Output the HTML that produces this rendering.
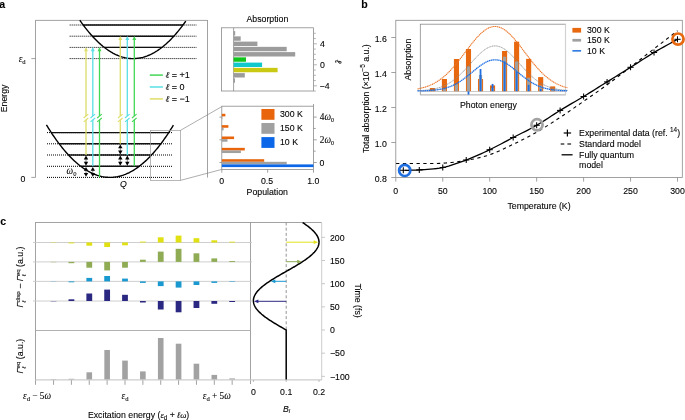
<!DOCTYPE html>
<html><head><meta charset="utf-8"><style>
html,body{margin:0;padding:0;background:#fff;width:685px;height:420px;overflow:hidden}
svg{display:block;font-family:"Liberation Sans",sans-serif;will-change:transform}
text{stroke:#000;stroke-width:0.1px}
</style></head><body>
<svg width="685" height="420" viewBox="0 0 685 420">
<text x="-0.8" y="7.7" font-size="10.6" text-anchor="start" fill="#000" font-weight="bold">a</text>
<text x="361.3" y="7.9" font-size="10.6" text-anchor="start" fill="#000" font-weight="bold">b</text>
<text x="0.3" y="225.1" font-size="10.6" text-anchor="start" fill="#000" font-weight="bold">c</text>
<line x1="35.5" y1="20.4" x2="35.5" y2="177.4" stroke="#8a8a8a" stroke-width="0.8" />
<line x1="35.1" y1="20.4" x2="207.5" y2="20.4" stroke="#8a8a8a" stroke-width="0.8" />
<line x1="207.5" y1="20" x2="207.5" y2="177.6" stroke="#8a8a8a" stroke-width="0.8" />
<line x1="31.3" y1="58.6" x2="35.5" y2="58.6" stroke="#8a8a8a" stroke-width="0.8" />
<line x1="31.3" y1="177.4" x2="35.5" y2="177.4" stroke="#8a8a8a" stroke-width="0.8" />
<text x="25.6" y="62" font-size="9.3" text-anchor="end" fill="#000" font-family="Liberation Serif"><tspan font-family="Liberation Serif" font-style="italic">ε</tspan><tspan font-size="6.6" dy="2.2">d</tspan></text>
<text x="23" y="181.6" font-size="8.75" text-anchor="middle" fill="#000" >0</text>
<text x="0" y="0" font-size="8.75" text-anchor="middle" fill="#000" transform="translate(7.2 98.4) rotate(-90)">Energy</text>
<line x1="69.7" y1="58.6" x2="196.4" y2="58.6" stroke="#000" stroke-width="1" stroke-dasharray="1.0 1.0"/>
<line x1="69.7" y1="47.4" x2="196.4" y2="47.4" stroke="#000" stroke-width="1" stroke-dasharray="1.0 1.0"/>
<line x1="104.3" y1="47.4" x2="161.9" y2="47.4" stroke="#111" stroke-width="1.4" />
<line x1="69.7" y1="36.2" x2="196.4" y2="36.2" stroke="#000" stroke-width="1" stroke-dasharray="1.0 1.0"/>
<line x1="92.37" y1="36.2" x2="173.83" y2="36.2" stroke="#111" stroke-width="1.4" />
<line x1="69.7" y1="25" x2="196.4" y2="25" stroke="#000" stroke-width="1" stroke-dasharray="1.0 1.0"/>
<line x1="83.21" y1="25" x2="182.99" y2="25" stroke="#111" stroke-width="1.4" />
<path d="M79.8 20.25 L80.8 21.67 L81.8 23.07 L82.8 24.44 L83.8 25.79 L84.8 27.11 L85.8 28.4 L86.8 29.66 L87.8 30.9 L88.8 32.11 L89.8 33.29 L90.8 34.44 L91.8 35.57 L92.8 36.67 L93.8 37.75 L94.8 38.8 L95.8 39.82 L96.8 40.81 L97.8 41.78 L98.8 42.72 L99.8 43.63 L100.8 44.52 L101.8 45.37 L102.8 46.21 L103.8 47.01 L104.8 47.79 L105.8 48.54 L106.8 49.26 L107.8 49.96 L108.8 50.63 L109.8 51.27 L110.8 51.89 L111.8 52.48 L112.8 53.04 L113.8 53.57 L114.8 54.08 L115.8 54.56 L116.8 55.01 L117.8 55.44 L118.8 55.84 L119.8 56.21 L120.8 56.56 L121.8 56.88 L122.8 57.17 L123.8 57.43 L124.8 57.67 L125.8 57.88 L126.8 58.06 L127.8 58.22 L128.8 58.35 L129.8 58.45 L130.8 58.53 L131.8 58.58 L132.8 58.6 L133.8 58.59 L134.8 58.56 L135.8 58.5 L136.8 58.42 L137.8 58.3 L138.8 58.16 L139.8 57.99 L140.8 57.8 L141.8 57.58 L142.8 57.33 L143.8 57.05 L144.8 56.75 L145.8 56.42 L146.8 56.07 L147.8 55.68 L148.8 55.27 L149.8 54.83 L150.8 54.37 L151.8 53.88 L152.8 53.36 L153.8 52.82 L154.8 52.24 L155.8 51.64 L156.8 51.02 L157.8 50.36 L158.8 49.68 L159.8 48.98 L160.8 48.24 L161.8 47.48 L162.8 46.69 L163.8 45.88 L164.8 45.03 L165.8 44.16 L166.8 43.27 L167.8 42.34 L168.8 41.39 L169.8 40.42 L170.8 39.41 L171.8 38.38 L172.8 37.32 L173.8 36.24 L174.8 35.12 L175.8 33.99 L176.8 32.82 L177.8 31.63 L178.8 30.41 L179.8 29.16 L180.8 27.88 L181.8 26.58 L182.8 25.25 L183.8 23.9 L184.8 22.52 L185.8 21.11" fill="none" stroke="#000" stroke-width="1.4" />
<line x1="47" y1="177.4" x2="172.9" y2="177.4" stroke="#000" stroke-width="1" stroke-dasharray="1.0 1.0"/>
<line x1="47" y1="166.3" x2="172.9" y2="166.3" stroke="#000" stroke-width="1" stroke-dasharray="1.0 1.0"/>
<line x1="80.78" y1="166.3" x2="139.22" y2="166.3" stroke="#111" stroke-width="1.4" />
<line x1="47" y1="155" x2="172.9" y2="155" stroke="#000" stroke-width="1" stroke-dasharray="1.0 1.0"/>
<line x1="68.49" y1="155" x2="151.51" y2="155" stroke="#111" stroke-width="1.4" />
<line x1="47" y1="143.8" x2="172.9" y2="143.8" stroke="#000" stroke-width="1" stroke-dasharray="1.0 1.0"/>
<line x1="59.16" y1="143.8" x2="160.84" y2="143.8" stroke="#111" stroke-width="1.4" />
<line x1="47" y1="132.6" x2="172.9" y2="132.6" stroke="#000" stroke-width="1" stroke-dasharray="1.0 1.0"/>
<line x1="51.3" y1="132.6" x2="168.7" y2="132.6" stroke="#111" stroke-width="1.4" />
<path d="M46.4 124.82 L47.4 126.46 L48.4 128.07 L49.4 129.66 L50.4 131.22 L51.4 132.76 L52.4 134.27 L53.4 135.75 L54.4 137.21 L55.4 138.64 L56.4 140.05 L57.4 141.43 L58.4 142.79 L59.4 144.12 L60.4 145.42 L61.4 146.69 L62.4 147.95 L63.4 149.17 L64.4 150.37 L65.4 151.54 L66.4 152.69 L67.4 153.81 L68.4 154.9 L69.4 155.97 L70.4 157.01 L71.4 158.03 L72.4 159.02 L73.4 159.99 L74.4 160.92 L75.4 161.84 L76.4 162.72 L77.4 163.58 L78.4 164.42 L79.4 165.23 L80.4 166.01 L81.4 166.77 L82.4 167.5 L83.4 168.2 L84.4 168.88 L85.4 169.53 L86.4 170.16 L87.4 170.76 L88.4 171.33 L89.4 171.88 L90.4 172.41 L91.4 172.9 L92.4 173.37 L93.4 173.82 L94.4 174.24 L95.4 174.63 L96.4 175 L97.4 175.34 L98.4 175.65 L99.4 175.94 L100.4 176.2 L101.4 176.44 L102.4 176.65 L103.4 176.83 L104.4 176.99 L105.4 177.12 L106.4 177.23 L107.4 177.31 L108.4 177.37 L109.4 177.4 L110.4 177.4 L111.4 177.37 L112.4 177.33 L113.4 177.25 L114.4 177.15 L115.4 177.02 L116.4 176.87 L117.4 176.69 L118.4 176.48 L119.4 176.25 L120.4 175.99 L121.4 175.71 L122.4 175.4 L123.4 175.07 L124.4 174.7 L125.4 174.32 L126.4 173.9 L127.4 173.46 L128.4 173 L129.4 172.51 L130.4 171.99 L131.4 171.45 L132.4 170.88 L133.4 170.28 L134.4 169.66 L135.4 169.01 L136.4 168.34 L137.4 167.64 L138.4 166.91 L139.4 166.16 L140.4 165.39 L141.4 164.58 L142.4 163.75 L143.4 162.9 L144.4 162.02 L145.4 161.11 L146.4 160.18 L147.4 159.22 L148.4 158.23 L149.4 157.22 L150.4 156.18 L151.4 155.12 L152.4 154.03 L153.4 152.91 L154.4 151.77 L155.4 150.6 L156.4 149.41 L157.4 148.19 L158.4 146.95 L159.4 145.68 L160.4 144.38 L161.4 143.05 L162.4 141.71 L163.4 140.33 L164.4 138.93 L165.4 137.5 L166.4 136.05 L167.4 134.57 L168.4 133.06 L169.4 131.53 L170.4 129.97 L171.4 128.39 L172.4 126.78 L173.4 125.15" fill="none" stroke="#000" stroke-width="1.4" />
<line x1="86" y1="155" x2="86" y2="119.8" stroke="#dede6a" stroke-width="1.3" />
<line x1="86" y1="116" x2="86" y2="50.6" stroke="#dede6a" stroke-width="1.3" />
<line x1="83.7" y1="121.9" x2="88.3" y2="118" stroke="#dede6a" stroke-width="1.1" />
<line x1="83.7" y1="118" x2="88.3" y2="114.1" stroke="#dede6a" stroke-width="1.1" />
<path d="M86 47.1 L84.05 51.3 L87.95 51.3 Z" fill="#dede6a"/>
<line x1="92.8" y1="166.3" x2="92.8" y2="119.8" stroke="#5adfe6" stroke-width="1.3" />
<line x1="92.8" y1="116" x2="92.8" y2="50.6" stroke="#5adfe6" stroke-width="1.3" />
<line x1="90.5" y1="121.9" x2="95.1" y2="118" stroke="#5adfe6" stroke-width="1.1" />
<line x1="90.5" y1="118" x2="95.1" y2="114.1" stroke="#5adfe6" stroke-width="1.1" />
<path d="M92.8 47.1 L90.85 51.3 L94.75 51.3 Z" fill="#5adfe6"/>
<line x1="99.5" y1="177.4" x2="99.5" y2="119.8" stroke="#44d656" stroke-width="1.3" />
<line x1="99.5" y1="116" x2="99.5" y2="50.6" stroke="#44d656" stroke-width="1.3" />
<line x1="97.2" y1="121.9" x2="101.8" y2="118" stroke="#44d656" stroke-width="1.1" />
<line x1="97.2" y1="118" x2="101.8" y2="114.1" stroke="#44d656" stroke-width="1.1" />
<path d="M99.5 47.1 L97.55 51.3 L101.45 51.3 Z" fill="#44d656"/>
<line x1="120.3" y1="143.8" x2="120.3" y2="119.8" stroke="#dede6a" stroke-width="1.3" />
<line x1="120.3" y1="116" x2="120.3" y2="39.4" stroke="#dede6a" stroke-width="1.3" />
<line x1="118" y1="121.9" x2="122.6" y2="118" stroke="#dede6a" stroke-width="1.1" />
<line x1="118" y1="118" x2="122.6" y2="114.1" stroke="#dede6a" stroke-width="1.1" />
<path d="M120.3 35.9 L118.35 40.1 L122.25 40.1 Z" fill="#dede6a"/>
<line x1="127.3" y1="155" x2="127.3" y2="119.8" stroke="#5adfe6" stroke-width="1.3" />
<line x1="127.3" y1="116" x2="127.3" y2="39.4" stroke="#5adfe6" stroke-width="1.3" />
<line x1="125" y1="121.9" x2="129.6" y2="118" stroke="#5adfe6" stroke-width="1.1" />
<line x1="125" y1="118" x2="129.6" y2="114.1" stroke="#5adfe6" stroke-width="1.1" />
<path d="M127.3 35.9 L125.35 40.1 L129.25 40.1 Z" fill="#5adfe6"/>
<line x1="134.3" y1="166.3" x2="134.3" y2="119.8" stroke="#44d656" stroke-width="1.3" />
<line x1="134.3" y1="116" x2="134.3" y2="39.4" stroke="#44d656" stroke-width="1.3" />
<line x1="132" y1="121.9" x2="136.6" y2="118" stroke="#44d656" stroke-width="1.1" />
<line x1="132" y1="118" x2="136.6" y2="114.1" stroke="#44d656" stroke-width="1.1" />
<path d="M134.3 35.9 L132.35 40.1 L136.25 40.1 Z" fill="#44d656"/>
<line x1="86" y1="158.5" x2="86" y2="162.8" stroke="#555" stroke-width="0.7" />
<path d="M86 155.6 L83.8 159.5 L88.2 159.5 Z" fill="#000"/>
<path d="M86 165.7 L83.8 161.8 L88.2 161.8 Z" fill="#000"/>
<line x1="86" y1="169.8" x2="86" y2="173.9" stroke="#555" stroke-width="0.7" />
<path d="M86 166.9 L83.8 170.8 L88.2 170.8 Z" fill="#000"/>
<path d="M86 176.8 L83.8 172.9 L88.2 172.9 Z" fill="#000"/>
<line x1="92.8" y1="169.8" x2="92.8" y2="173.9" stroke="#555" stroke-width="0.7" />
<path d="M92.8 166.9 L90.6 170.8 L95 170.8 Z" fill="#000"/>
<path d="M92.8 176.8 L90.6 172.9 L95 172.9 Z" fill="#000"/>
<line x1="120.3" y1="147.3" x2="120.3" y2="151.5" stroke="#555" stroke-width="0.7" />
<path d="M120.3 144.4 L118.1 148.3 L122.5 148.3 Z" fill="#000"/>
<path d="M120.3 154.4 L118.1 150.5 L122.5 150.5 Z" fill="#000"/>
<line x1="120.3" y1="158.5" x2="120.3" y2="162.8" stroke="#555" stroke-width="0.7" />
<path d="M120.3 155.6 L118.1 159.5 L122.5 159.5 Z" fill="#000"/>
<path d="M120.3 165.7 L118.1 161.8 L122.5 161.8 Z" fill="#000"/>
<line x1="127.3" y1="158.5" x2="127.3" y2="162.8" stroke="#555" stroke-width="0.7" />
<path d="M127.3 155.6 L125.1 159.5 L129.5 159.5 Z" fill="#000"/>
<path d="M127.3 165.7 L125.1 161.8 L129.5 161.8 Z" fill="#000"/>
<text x="66.6" y="174.3" font-size="9.3" text-anchor="start" fill="#000" font-family="Liberation Serif"><tspan font-family="Liberation Serif" font-style="italic">ω</tspan><tspan font-size="6.6" dy="2.0">0</tspan></text>
<text x="123.3" y="187.2" font-size="8.75" text-anchor="middle" fill="#000" font-style="italic">Q</text>
<rect x="150.4" y="130.4" width="30" height="50" fill="none" stroke="#999" stroke-width="0.7"/>
<line x1="180.4" y1="130.4" x2="221.8" y2="106.6" stroke="#777" stroke-width="0.6" />
<line x1="180.4" y1="180.4" x2="221.8" y2="169.4" stroke="#777" stroke-width="0.6" />
<line x1="149.8" y1="75.1" x2="162.9" y2="75.1" stroke="#44d656" stroke-width="1.5" />
<text x="165.6" y="78.2" font-size="9" text-anchor="start" fill="#000" ><tspan font-family="Liberation Serif" font-style="italic">ℓ</tspan> = +1</text>
<line x1="149.8" y1="87" x2="162.9" y2="87" stroke="#5adfe6" stroke-width="1.5" />
<text x="165.6" y="90.1" font-size="9" text-anchor="start" fill="#000" ><tspan font-family="Liberation Serif" font-style="italic">ℓ</tspan> = 0</text>
<line x1="149.8" y1="98.9" x2="162.9" y2="98.9" stroke="#dede6a" stroke-width="1.5" />
<text x="165.6" y="102" font-size="9" text-anchor="start" fill="#000" ><tspan font-family="Liberation Serif" font-style="italic">ℓ</tspan> = −1</text>
<rect x="221.5" y="27.8" width="92.0" height="63.2" fill="none" stroke="#8a8a8a" stroke-width="0.8"/>
<line x1="233.6" y1="27.8" x2="233.6" y2="91" stroke="#8a8a8a" stroke-width="0.8" />
<rect x="233.6" y="31.1" width="1.6" height="4.4" fill="#9c9c9c"/>
<rect x="233.6" y="36.35" width="7.1" height="4.4" fill="#9c9c9c"/>
<rect x="233.6" y="41.6" width="23.8" height="4.4" fill="#9c9c9c"/>
<rect x="233.6" y="46.85" width="53.1" height="4.4" fill="#9c9c9c"/>
<rect x="233.6" y="52.1" width="61.6" height="4.4" fill="#9c9c9c"/>
<rect x="233.6" y="57.35" width="12.4" height="4.4" fill="#11c51c"/>
<rect x="233.6" y="62.6" width="28.5" height="4.4" fill="#12c8cc"/>
<rect x="233.6" y="67.85" width="44" height="4.4" fill="#c9c812"/>
<rect x="233.6" y="73.1" width="11.2" height="4.4" fill="#9c9c9c"/>
<rect x="233.6" y="78.35" width="1.4" height="4.4" fill="#9c9c9c"/>
<line x1="313.5" y1="91.05" x2="315.8" y2="91.05" stroke="#a0a0a0" stroke-width="0.8" />
<line x1="313.5" y1="85.8" x2="316.9" y2="85.8" stroke="#a0a0a0" stroke-width="0.8" />
<line x1="313.5" y1="80.55" x2="315.8" y2="80.55" stroke="#a0a0a0" stroke-width="0.8" />
<line x1="313.5" y1="75.3" x2="315.8" y2="75.3" stroke="#a0a0a0" stroke-width="0.8" />
<line x1="313.5" y1="70.05" x2="315.8" y2="70.05" stroke="#a0a0a0" stroke-width="0.8" />
<line x1="313.5" y1="64.8" x2="316.9" y2="64.8" stroke="#a0a0a0" stroke-width="0.8" />
<line x1="313.5" y1="59.55" x2="315.8" y2="59.55" stroke="#a0a0a0" stroke-width="0.8" />
<line x1="313.5" y1="54.3" x2="315.8" y2="54.3" stroke="#a0a0a0" stroke-width="0.8" />
<line x1="313.5" y1="49.05" x2="315.8" y2="49.05" stroke="#a0a0a0" stroke-width="0.8" />
<line x1="313.5" y1="43.8" x2="316.9" y2="43.8" stroke="#a0a0a0" stroke-width="0.8" />
<line x1="313.5" y1="38.55" x2="315.8" y2="38.55" stroke="#a0a0a0" stroke-width="0.8" />
<line x1="313.5" y1="33.3" x2="315.8" y2="33.3" stroke="#a0a0a0" stroke-width="0.8" />
<text x="322.4" y="46.9" font-size="8.75" text-anchor="middle" fill="#000" >4</text>
<text x="322.4" y="67.9" font-size="8.75" text-anchor="middle" fill="#000" >0</text>
<text x="324.6" y="88.9" font-size="8.75" text-anchor="middle" fill="#000" >−4</text>
<text x="0" y="0" font-size="9.6" text-anchor="middle" fill="#000" font-family="Liberation Serif" font-style="italic" transform="translate(334.6 61.4) rotate(90)">ℓ</text>
<text x="267.4" y="22.4" font-size="8.75" text-anchor="middle" fill="#000" >Absorption</text>
<rect x="221.8" y="106.2" width="91.7" height="63.2" fill="none" stroke="#8a8a8a" stroke-width="0.8"/>
<line x1="313.5" y1="104" x2="313.5" y2="106.2" stroke="#8a8a8a" stroke-width="0.8" />
<rect x="221.8" y="159.2" width="42.4" height="2.6" fill="#e8650c"/>
<rect x="221.8" y="161.8" width="64.9" height="2.6" fill="#a0a0a0"/>
<rect x="221.8" y="147.85" width="23" height="2.6" fill="#e8650c"/>
<rect x="221.8" y="150.45" width="19.1" height="2.6" fill="#a0a0a0"/>
<rect x="221.8" y="136.5" width="12.3" height="2.6" fill="#e8650c"/>
<rect x="221.8" y="139.1" width="5.7" height="2.6" fill="#a0a0a0"/>
<rect x="221.8" y="125.15" width="6.6" height="2.6" fill="#e8650c"/>
<rect x="221.8" y="127.75" width="1.8" height="2.6" fill="#a0a0a0"/>
<rect x="221.8" y="113.8" width="3.6" height="2.6" fill="#e8650c"/>
<rect x="221.8" y="116.4" width="0.6" height="2.6" fill="#a0a0a0"/>
<rect x="221.8" y="164.4" width="91.7" height="2.7" fill="#0b66e8"/>
<line x1="313.5" y1="162.5" x2="316.7" y2="162.5" stroke="#8a8a8a" stroke-width="0.8" />
<line x1="219.4" y1="162.5" x2="221.8" y2="162.5" stroke="#8a8a8a" stroke-width="0.8" />
<line x1="313.5" y1="151.15" x2="315.7" y2="151.15" stroke="#8a8a8a" stroke-width="0.8" />
<line x1="313.5" y1="139.8" x2="316.7" y2="139.8" stroke="#8a8a8a" stroke-width="0.8" />
<line x1="219.4" y1="139.8" x2="221.8" y2="139.8" stroke="#8a8a8a" stroke-width="0.8" />
<line x1="313.5" y1="128.45" x2="315.7" y2="128.45" stroke="#8a8a8a" stroke-width="0.8" />
<line x1="313.5" y1="117.1" x2="316.7" y2="117.1" stroke="#8a8a8a" stroke-width="0.8" />
<line x1="219.4" y1="117.1" x2="221.8" y2="117.1" stroke="#8a8a8a" stroke-width="0.8" />
<line x1="221.8" y1="169.4" x2="221.8" y2="172.7" stroke="#8a8a8a" stroke-width="0.8" />
<line x1="267.65" y1="169.4" x2="267.65" y2="172.7" stroke="#8a8a8a" stroke-width="0.8" />
<line x1="313.5" y1="169.4" x2="313.5" y2="172.7" stroke="#8a8a8a" stroke-width="0.8" />
<rect x="261.4" y="109" width="13.1" height="10.8" fill="#e8650c"/>
<text x="280" y="116.9" font-size="8.75" text-anchor="start" fill="#000" >300 K</text>
<rect x="261.4" y="123" width="13.1" height="10.8" fill="#a0a0a0"/>
<text x="280" y="130.9" font-size="8.75" text-anchor="start" fill="#000" >150 K</text>
<rect x="261.4" y="137.1" width="13.1" height="10.8" fill="#0b66e8"/>
<text x="280" y="145" font-size="8.75" text-anchor="start" fill="#000" >10 K</text>
<text x="319.8" y="120.2" font-size="9.3" text-anchor="start" fill="#000" font-family="Liberation Serif">4<tspan font-family="Liberation Serif" font-style="italic">ω</tspan><tspan font-size="6.3" dy="1.8">0</tspan></text>
<text x="319.8" y="142.9" font-size="9.3" text-anchor="start" fill="#000" font-family="Liberation Serif">2<tspan font-family="Liberation Serif" font-style="italic">ω</tspan><tspan font-size="6.3" dy="1.8">0</tspan></text>
<text x="319.6" y="165.6" font-size="8.75" text-anchor="start" fill="#000" >0</text>
<text x="221.8" y="183.8" font-size="8.75" text-anchor="middle" fill="#000" >0</text>
<text x="267" y="183.8" font-size="8.75" text-anchor="middle" fill="#000" >0.5</text>
<text x="313.3" y="183.8" font-size="8.75" text-anchor="middle" fill="#000" >1.0</text>
<text x="267.3" y="195.3" font-size="8.75" text-anchor="middle" fill="#000" >Population</text>
<rect x="395.8" y="20.3" width="286.5" height="157.2" fill="none" stroke="#8a8a8a" stroke-width="0.8"/>
<line x1="391.3" y1="177.5" x2="395.8" y2="177.5" stroke="#8a8a8a" stroke-width="0.8" />
<text x="386.9" y="181.5" font-size="8.75" text-anchor="end" fill="#000" >0.8</text>
<line x1="391.3" y1="142.5" x2="395.8" y2="142.5" stroke="#8a8a8a" stroke-width="0.8" />
<text x="386.9" y="146.5" font-size="8.75" text-anchor="end" fill="#000" >1.0</text>
<line x1="391.3" y1="107.5" x2="395.8" y2="107.5" stroke="#8a8a8a" stroke-width="0.8" />
<text x="386.9" y="111.5" font-size="8.75" text-anchor="end" fill="#000" >1.2</text>
<line x1="391.3" y1="72.5" x2="395.8" y2="72.5" stroke="#8a8a8a" stroke-width="0.8" />
<text x="386.9" y="76.5" font-size="8.75" text-anchor="end" fill="#000" >1.4</text>
<line x1="391.3" y1="37.5" x2="395.8" y2="37.5" stroke="#8a8a8a" stroke-width="0.8" />
<text x="386.9" y="41.5" font-size="8.75" text-anchor="end" fill="#000" >1.6</text>
<line x1="395.8" y1="177.5" x2="395.8" y2="181.6" stroke="#8a8a8a" stroke-width="0.8" />
<text x="395.8" y="194.2" font-size="8.75" text-anchor="middle" fill="#000" >0</text>
<line x1="442.75" y1="177.5" x2="442.75" y2="181.6" stroke="#8a8a8a" stroke-width="0.8" />
<text x="442.75" y="194.2" font-size="8.75" text-anchor="middle" fill="#000" >50</text>
<line x1="489.7" y1="177.5" x2="489.7" y2="181.6" stroke="#8a8a8a" stroke-width="0.8" />
<text x="489.7" y="194.2" font-size="8.75" text-anchor="middle" fill="#000" >100</text>
<line x1="536.65" y1="177.5" x2="536.65" y2="181.6" stroke="#8a8a8a" stroke-width="0.8" />
<text x="536.65" y="194.2" font-size="8.75" text-anchor="middle" fill="#000" >150</text>
<line x1="583.6" y1="177.5" x2="583.6" y2="181.6" stroke="#8a8a8a" stroke-width="0.8" />
<text x="583.6" y="194.2" font-size="8.75" text-anchor="middle" fill="#000" >200</text>
<line x1="630.55" y1="177.5" x2="630.55" y2="181.6" stroke="#8a8a8a" stroke-width="0.8" />
<text x="630.55" y="194.2" font-size="8.75" text-anchor="middle" fill="#000" >250</text>
<line x1="677.5" y1="177.5" x2="677.5" y2="181.6" stroke="#8a8a8a" stroke-width="0.8" />
<text x="677.5" y="194.2" font-size="8.75" text-anchor="middle" fill="#000" >300</text>
<text x="539" y="209.4" font-size="8.75" text-anchor="middle" fill="#000" >Temperature (K)</text>
<text x="0" y="0" font-size="8.72" text-anchor="middle" fill="#000" transform="translate(368.6 98.7) rotate(-90)">Total absorption (×10<tspan font-size="6.4" dy="-3.6">−5</tspan><tspan dy="3.6"> a.u.)</tspan></text>
<path d="M395.8 163.5 L397.61 163.5 L400.02 163.51 L402.88 163.51 L406.07 163.52 L409.44 163.52 L412.86 163.52 L416.18 163.51 L419.28 163.5 L422.21 163.49 L425.14 163.5 L428.08 163.52 L431.01 163.53 L433.95 163.51 L436.88 163.46 L439.82 163.36 L442.75 163.2 L445.68 162.99 L448.62 162.74 L451.55 162.46 L454.49 162.14 L457.42 161.77 L460.36 161.36 L463.29 160.91 L466.23 160.4 L469.16 159.86 L472.09 159.29 L475.03 158.68 L477.96 158.03 L480.9 157.31 L483.83 156.52 L486.77 155.66 L489.7 154.7 L492.63 153.64 L495.57 152.47 L498.5 151.22 L501.44 149.9 L504.37 148.53 L507.31 147.13 L510.24 145.71 L513.17 144.3 L516.11 142.89 L519.04 141.46 L521.98 140.01 L524.91 138.53 L527.85 137.01 L530.78 135.45 L533.72 133.85 L536.65 132.2 L539.58 130.49 L542.52 128.72 L545.45 126.9 L548.39 125.05 L551.32 123.16 L554.26 121.25 L557.19 119.33 L560.12 117.4 L563.06 115.45 L565.99 113.48 L568.93 111.48 L571.86 109.46 L574.8 107.42 L577.73 105.38 L580.67 103.34 L583.6 101.3 L586.53 99.27 L589.47 97.23 L592.4 95.2 L595.34 93.16 L598.27 91.1 L601.21 89.03 L604.14 86.93 L607.08 84.8 L610.01 82.64 L612.94 80.45 L615.88 78.24 L618.81 76.01 L621.75 73.76 L624.68 71.51 L627.62 69.25 L630.55 67 L633.48 64.74 L636.42 62.47 L639.35 60.2 L642.29 57.91 L645.22 55.63 L648.16 53.35 L651.09 51.07 L654.02 48.8 L657.12 46.42 L660.44 43.86 L663.86 41.24 L667.23 38.66 L670.42 36.22 L673.28 34.03 L675.69 32.19 L677.5 30.8" fill="none" stroke="#000" stroke-width="1.1" stroke-dasharray="3.3 3.5" stroke-dashoffset="-0.3"/>
<path d="M405.19 170.3 L406.21 170.28 L407.5 170.28 L409.03 170.27 L410.77 170.25 L412.69 170.21 L414.76 170.15 L416.97 170.05 L419.28 169.9 L421.76 169.73 L424.48 169.56 L427.39 169.37 L430.43 169.14 L433.53 168.86 L436.66 168.51 L439.75 168.06 L442.75 167.5 L445.68 166.83 L448.62 166.05 L451.55 165.18 L454.49 164.24 L457.42 163.24 L460.36 162.19 L463.29 161.11 L466.23 160 L469.16 158.86 L472.09 157.67 L475.03 156.43 L477.96 155.14 L480.9 153.82 L483.83 152.47 L486.77 151.1 L489.7 149.7 L492.63 148.27 L495.57 146.78 L498.5 145.26 L501.44 143.72 L504.37 142.16 L507.31 140.59 L510.24 139.04 L513.17 137.5 L516.11 135.99 L519.04 134.51 L521.98 133.04 L524.91 131.57 L527.85 130.07 L530.78 128.54 L533.72 126.95 L536.65 125.3 L539.58 123.56 L542.52 121.74 L545.45 119.87 L548.39 117.96 L551.32 116.03 L554.26 114.12 L557.19 112.23 L560.12 110.4 L563.06 108.62 L565.99 106.87 L568.93 105.15 L571.86 103.43 L574.8 101.72 L577.73 100 L580.67 98.26 L583.6 96.5 L586.53 94.71 L589.47 92.9 L592.4 91.08 L595.34 89.24 L598.27 87.41 L601.21 85.57 L604.14 83.73 L607.08 81.9 L610.01 80.08 L612.94 78.25 L615.88 76.43 L618.81 74.61 L621.75 72.79 L624.68 70.96 L627.62 69.13 L630.55 67.3 L633.48 65.45 L636.42 63.58 L639.35 61.69 L642.29 59.81 L645.22 57.94 L648.16 56.09 L651.09 54.27 L654.02 52.5 L657.12 50.68 L660.44 48.78 L663.86 46.85 L667.23 44.98 L670.42 43.21 L673.28 41.63 L675.69 40.31 L677.5 39.3" fill="none" stroke="#000" stroke-width="1.3" />
<circle cx="404.7" cy="170.4" r="5.6" fill="none" stroke="#1f6fe0" stroke-width="2.7"/>
<circle cx="537.0" cy="124.8" r="5.6" fill="none" stroke="#a2a2a2" stroke-width="2.7"/>
<circle cx="678.0" cy="39.1" r="5.6" fill="none" stroke="#e8680f" stroke-width="2.7"/>
<line x1="400.21" y1="170.3" x2="406.41" y2="170.3" stroke="#000" stroke-width="1.05" />
<line x1="403.31" y1="167.3" x2="403.31" y2="173.3" stroke="#000" stroke-width="1.05" />
<line x1="416.18" y1="169.9" x2="422.38" y2="169.9" stroke="#000" stroke-width="1.05" />
<line x1="419.28" y1="166.9" x2="419.28" y2="172.9" stroke="#000" stroke-width="1.05" />
<line x1="439.65" y1="167.5" x2="445.85" y2="167.5" stroke="#000" stroke-width="1.05" />
<line x1="442.75" y1="164.5" x2="442.75" y2="170.5" stroke="#000" stroke-width="1.05" />
<line x1="463.12" y1="160" x2="469.33" y2="160" stroke="#000" stroke-width="1.05" />
<line x1="466.23" y1="157" x2="466.23" y2="163" stroke="#000" stroke-width="1.05" />
<line x1="486.6" y1="149.7" x2="492.8" y2="149.7" stroke="#000" stroke-width="1.05" />
<line x1="489.7" y1="146.7" x2="489.7" y2="152.7" stroke="#000" stroke-width="1.05" />
<line x1="510.07" y1="137.5" x2="516.27" y2="137.5" stroke="#000" stroke-width="1.05" />
<line x1="513.17" y1="134.5" x2="513.17" y2="140.5" stroke="#000" stroke-width="1.05" />
<line x1="533.55" y1="125.3" x2="539.75" y2="125.3" stroke="#000" stroke-width="1.05" />
<line x1="536.65" y1="122.3" x2="536.65" y2="128.3" stroke="#000" stroke-width="1.05" />
<line x1="557.02" y1="110.4" x2="563.23" y2="110.4" stroke="#000" stroke-width="1.05" />
<line x1="560.12" y1="107.4" x2="560.12" y2="113.4" stroke="#000" stroke-width="1.05" />
<line x1="580.5" y1="96.5" x2="586.7" y2="96.5" stroke="#000" stroke-width="1.05" />
<line x1="583.6" y1="93.5" x2="583.6" y2="99.5" stroke="#000" stroke-width="1.05" />
<line x1="603.98" y1="81.9" x2="610.18" y2="81.9" stroke="#000" stroke-width="1.05" />
<line x1="607.08" y1="78.9" x2="607.08" y2="84.9" stroke="#000" stroke-width="1.05" />
<line x1="627.45" y1="67.3" x2="633.65" y2="67.3" stroke="#000" stroke-width="1.05" />
<line x1="630.55" y1="64.3" x2="630.55" y2="70.3" stroke="#000" stroke-width="1.05" />
<line x1="650.92" y1="52.5" x2="657.12" y2="52.5" stroke="#000" stroke-width="1.05" />
<line x1="654.02" y1="49.5" x2="654.02" y2="55.5" stroke="#000" stroke-width="1.05" />
<line x1="674.4" y1="39.3" x2="680.6" y2="39.3" stroke="#000" stroke-width="1.05" />
<line x1="677.5" y1="36.3" x2="677.5" y2="42.3" stroke="#000" stroke-width="1.05" />
<line x1="563.7" y1="133" x2="571.1" y2="133" stroke="#000" stroke-width="1.2" />
<line x1="567.4" y1="129.4" x2="567.4" y2="136.6" stroke="#000" stroke-width="1.2" />
<text x="579.1" y="135.8" font-size="8.75" text-anchor="start" fill="#000" >Experimental data (ref. <tspan font-size="6.4" dy="-3.9">14</tspan><tspan dy="3.9">)</tspan></text>
<line x1="560.7" y1="144" x2="564.3" y2="144" stroke="#000" stroke-width="1.1" />
<line x1="567.4" y1="144" x2="571.1" y2="144" stroke="#000" stroke-width="1.1" />
<text x="579.1" y="147.1" font-size="8.75" text-anchor="start" fill="#000" >Standard model</text>
<line x1="561.6" y1="154.8" x2="572.6" y2="154.8" stroke="#000" stroke-width="1.3" />
<text x="579.1" y="157.9" font-size="8.75" text-anchor="start" fill="#000" >Fully quantum</text>
<text x="579.1" y="167.9" font-size="8.75" text-anchor="start" fill="#000" >model</text>
<rect x="420.3" y="24.2" width="145.2" height="70.6" fill="#fff" stroke="#8a8a8a" stroke-width="0.8"/>
<line x1="565.5" y1="24.2" x2="565.5" y2="94.8" stroke="#d2d2d2" stroke-width="1.2" />
<line x1="420.3" y1="94.8" x2="565.5" y2="94.8" stroke="#d2d2d2" stroke-width="1.2" />
<line x1="420.3" y1="91.5" x2="565.5" y2="91.5" stroke="#c4c4c4" stroke-width="0.9" />
<rect x="429.85" y="88" width="5.1" height="3.2" fill="#e8680f"/>
<rect x="430.8" y="90" width="3.2" height="1.2" fill="#a0a0a0"/>
<rect x="441.88" y="79" width="5.1" height="12.2" fill="#e8680f"/>
<rect x="442.83" y="88.5" width="3.2" height="2.7" fill="#a0a0a0"/>
<rect x="453.91" y="59" width="5.1" height="32.2" fill="#e8680f"/>
<rect x="454.86" y="84.3" width="3.2" height="6.9" fill="#a0a0a0"/>
<rect x="465.94" y="49" width="5.1" height="42.2" fill="#e8680f"/>
<rect x="466.89" y="66.4" width="3.2" height="24.8" fill="#a0a0a0"/>
<rect x="477.97" y="79" width="5.1" height="12.2" fill="#e8680f"/>
<rect x="478.92" y="75" width="3.2" height="16.2" fill="#a0a0a0"/>
<rect x="479.62" y="69" width="1.8" height="22.2" fill="#1f6fe0"/>
<rect x="490" y="85.4" width="5.1" height="5.8" fill="#e8680f"/>
<rect x="490.95" y="88" width="3.2" height="3.2" fill="#a0a0a0"/>
<rect x="491.65" y="83.9" width="1.8" height="7.3" fill="#1f6fe0"/>
<rect x="502.03" y="51" width="5.1" height="40.2" fill="#e8680f"/>
<rect x="502.98" y="56.7" width="3.2" height="34.5" fill="#a0a0a0"/>
<rect x="503.68" y="61.5" width="1.8" height="29.7" fill="#1f6fe0"/>
<rect x="514.06" y="41.7" width="5.1" height="49.5" fill="#e8680f"/>
<rect x="515.01" y="61.5" width="3.2" height="29.7" fill="#a0a0a0"/>
<rect x="515.71" y="71.6" width="1.8" height="19.6" fill="#1f6fe0"/>
<rect x="526.09" y="58.9" width="5.1" height="32.3" fill="#e8680f"/>
<rect x="527.04" y="77.7" width="3.2" height="13.5" fill="#a0a0a0"/>
<rect x="527.74" y="84.8" width="1.8" height="6.4" fill="#1f6fe0"/>
<rect x="538.12" y="77.1" width="5.1" height="14.1" fill="#e8680f"/>
<rect x="539.07" y="85.5" width="3.2" height="5.7" fill="#a0a0a0"/>
<rect x="539.77" y="89" width="1.8" height="2.2" fill="#1f6fe0"/>
<rect x="550.15" y="86.4" width="5.1" height="4.8" fill="#e8680f"/>
<rect x="551.1" y="89.5" width="3.2" height="1.7" fill="#a0a0a0"/>
<rect x="467.59" y="91.4" width="1.8" height="3.2" fill="#1f6fe0"/>
<path d="M417.5 88.95 L418.5 88.76 L419.5 88.56 L420.5 88.34 L421.5 88.11 L422.5 87.85 L423.5 87.58 L424.5 87.29 L425.5 86.98 L426.5 86.65 L427.5 86.29 L428.5 85.92 L429.5 85.52 L430.5 85.09 L431.5 84.64 L432.5 84.16 L433.5 83.66 L434.5 83.13 L435.5 82.56 L436.5 81.97 L437.5 81.35 L438.5 80.7 L439.5 80.01 L440.5 79.29 L441.5 78.54 L442.5 77.76 L443.5 76.95 L444.5 76.1 L445.5 75.22 L446.5 74.3 L447.5 73.36 L448.5 72.38 L449.5 71.37 L450.5 70.33 L451.5 69.25 L452.5 68.15 L453.5 67.02 L454.5 65.86 L455.5 64.68 L456.5 63.48 L457.5 62.25 L458.5 61 L459.5 59.73 L460.5 58.45 L461.5 57.15 L462.5 55.84 L463.5 54.53 L464.5 53.2 L465.5 51.88 L466.5 50.55 L467.5 49.23 L468.5 47.91 L469.5 46.61 L470.5 45.31 L471.5 44.04 L472.5 42.78 L473.5 41.54 L474.5 40.34 L475.5 39.16 L476.5 38.01 L477.5 36.91 L478.5 35.84 L479.5 34.82 L480.5 33.84 L481.5 32.91 L482.5 32.04 L483.5 31.22 L484.5 30.46 L485.5 29.76 L486.5 29.12 L487.5 28.55 L488.5 28.05 L489.5 27.61 L490.5 27.25 L491.5 26.95 L492.5 26.73 L493.5 26.58 L494.5 26.51 L495.5 26.51 L496.5 26.58 L497.5 26.73 L498.5 26.95 L499.5 27.25 L500.5 27.61 L501.5 28.05 L502.5 28.55 L503.5 29.12 L504.5 29.76 L505.5 30.46 L506.5 31.22 L507.5 32.04 L508.5 32.91 L509.5 33.84 L510.5 34.82 L511.5 35.84 L512.5 36.91 L513.5 38.01 L514.5 39.16 L515.5 40.34 L516.5 41.54 L517.5 42.78 L518.5 44.04 L519.5 45.31 L520.5 46.61 L521.5 47.91 L522.5 49.23 L523.5 50.55 L524.5 51.88 L525.5 53.2 L526.5 54.53 L527.5 55.84 L528.5 57.15 L529.5 58.45 L530.5 59.73 L531.5 61 L532.5 62.25 L533.5 63.48 L534.5 64.68 L535.5 65.86 L536.5 67.02 L537.5 68.15 L538.5 69.25 L539.5 70.33 L540.5 71.37 L541.5 72.38 L542.5 73.36 L543.5 74.3 L544.5 75.22 L545.5 76.1 L546.5 76.95 L547.5 77.76 L548.5 78.54 L549.5 79.29 L550.5 80.01 L551.5 80.7 L552.5 81.35 L553.5 81.97 L554.5 82.56 L555.5 83.13 L556.5 83.66 L557.5 84.16 L558.5 84.64 L559.5 85.09 L560.5 85.52 L561.5 85.92 L562.5 86.29 L563.5 86.65 L564.5 86.98 L565.5 87.29 L566.5 87.58 L567.5 87.85" fill="none" stroke="#ea7020" stroke-width="1.05" stroke-dasharray="1.4 0.5"/>
<path d="M417.5 90.7 L418.5 90.66 L419.5 90.61 L420.5 90.56 L421.5 90.5 L422.5 90.43 L423.5 90.36 L424.5 90.28 L425.5 90.19 L426.5 90.09 L427.5 89.99 L428.5 89.87 L429.5 89.73 L430.5 89.59 L431.5 89.43 L432.5 89.26 L433.5 89.07 L434.5 88.86 L435.5 88.64 L436.5 88.39 L437.5 88.13 L438.5 87.84 L439.5 87.53 L440.5 87.2 L441.5 86.84 L442.5 86.46 L443.5 86.05 L444.5 85.61 L445.5 85.14 L446.5 84.64 L447.5 84.11 L448.5 83.55 L449.5 82.96 L450.5 82.33 L451.5 81.68 L452.5 80.98 L453.5 80.26 L454.5 79.5 L455.5 78.7 L456.5 77.88 L457.5 77.02 L458.5 76.13 L459.5 75.21 L460.5 74.27 L461.5 73.29 L462.5 72.29 L463.5 71.27 L464.5 70.22 L465.5 69.15 L466.5 68.07 L467.5 66.98 L468.5 65.87 L469.5 64.76 L470.5 63.65 L471.5 62.53 L472.5 61.42 L473.5 60.31 L474.5 59.22 L475.5 58.14 L476.5 57.09 L477.5 56.05 L478.5 55.05 L479.5 54.08 L480.5 53.15 L481.5 52.25 L482.5 51.4 L483.5 50.6 L484.5 49.86 L485.5 49.17 L486.5 48.53 L487.5 47.96 L488.5 47.46 L489.5 47.02 L490.5 46.65 L491.5 46.36 L492.5 46.13 L493.5 45.98 L494.5 45.91 L495.5 45.91 L496.5 45.98 L497.5 46.13 L498.5 46.36 L499.5 46.65 L500.5 47.02 L501.5 47.46 L502.5 47.96 L503.5 48.53 L504.5 49.17 L505.5 49.86 L506.5 50.6 L507.5 51.4 L508.5 52.25 L509.5 53.15 L510.5 54.08 L511.5 55.05 L512.5 56.05 L513.5 57.09 L514.5 58.14 L515.5 59.22 L516.5 60.31 L517.5 61.42 L518.5 62.53 L519.5 63.65 L520.5 64.76 L521.5 65.87 L522.5 66.98 L523.5 68.07 L524.5 69.15 L525.5 70.22 L526.5 71.27 L527.5 72.29 L528.5 73.29 L529.5 74.27 L530.5 75.21 L531.5 76.13 L532.5 77.02 L533.5 77.88 L534.5 78.7 L535.5 79.5 L536.5 80.26 L537.5 80.98 L538.5 81.68 L539.5 82.33 L540.5 82.96 L541.5 83.55 L542.5 84.11 L543.5 84.64 L544.5 85.14 L545.5 85.61 L546.5 86.05 L547.5 86.46 L548.5 86.84 L549.5 87.2 L550.5 87.53 L551.5 87.84 L552.5 88.13 L553.5 88.39 L554.5 88.64 L555.5 88.86 L556.5 89.07 L557.5 89.26 L558.5 89.43 L559.5 89.59 L560.5 89.73 L561.5 89.87 L562.5 89.99 L563.5 90.09 L564.5 90.19 L565.5 90.28 L566.5 90.36 L567.5 90.43" fill="none" stroke="#868686" stroke-width="0.9" stroke-dasharray="1.2 0.6"/>
<path d="M417.5 90.91 L418.5 90.89 L419.5 90.88 L420.5 90.86 L421.5 90.83 L422.5 90.81 L423.5 90.78 L424.5 90.75 L425.5 90.71 L426.5 90.67 L427.5 90.62 L428.5 90.57 L429.5 90.51 L430.5 90.45 L431.5 90.38 L432.5 90.3 L433.5 90.21 L434.5 90.11 L435.5 89.99 L436.5 89.87 L437.5 89.74 L438.5 89.59 L439.5 89.43 L440.5 89.25 L441.5 89.06 L442.5 88.85 L443.5 88.62 L444.5 88.37 L445.5 88.11 L446.5 87.82 L447.5 87.51 L448.5 87.17 L449.5 86.81 L450.5 86.43 L451.5 86.03 L452.5 85.59 L453.5 85.13 L454.5 84.65 L455.5 84.13 L456.5 83.6 L457.5 83.03 L458.5 82.43 L459.5 81.82 L460.5 81.17 L461.5 80.5 L462.5 79.8 L463.5 79.09 L464.5 78.35 L465.5 77.59 L466.5 76.81 L467.5 76.02 L468.5 75.22 L469.5 74.4 L470.5 73.57 L471.5 72.74 L472.5 71.91 L473.5 71.08 L474.5 70.25 L475.5 69.43 L476.5 68.62 L477.5 67.82 L478.5 67.04 L479.5 66.29 L480.5 65.56 L481.5 64.86 L482.5 64.19 L483.5 63.56 L484.5 62.97 L485.5 62.42 L486.5 61.91 L487.5 61.46 L488.5 61.05 L489.5 60.7 L490.5 60.41 L491.5 60.17 L492.5 59.99 L493.5 59.87 L494.5 59.81 L495.5 59.81 L496.5 59.87 L497.5 59.99 L498.5 60.17 L499.5 60.41 L500.5 60.7 L501.5 61.05 L502.5 61.46 L503.5 61.91 L504.5 62.42 L505.5 62.97 L506.5 63.56 L507.5 64.19 L508.5 64.86 L509.5 65.56 L510.5 66.29 L511.5 67.04 L512.5 67.82 L513.5 68.62 L514.5 69.43 L515.5 70.25 L516.5 71.08 L517.5 71.91 L518.5 72.74 L519.5 73.57 L520.5 74.4 L521.5 75.22 L522.5 76.02 L523.5 76.81 L524.5 77.59 L525.5 78.35 L526.5 79.09 L527.5 79.8 L528.5 80.5 L529.5 81.17 L530.5 81.82 L531.5 82.43 L532.5 83.03 L533.5 83.6 L534.5 84.13 L535.5 84.65 L536.5 85.13 L537.5 85.59 L538.5 86.03 L539.5 86.43 L540.5 86.81 L541.5 87.17 L542.5 87.51 L543.5 87.82 L544.5 88.11 L545.5 88.37 L546.5 88.62 L547.5 88.85 L548.5 89.06 L549.5 89.25 L550.5 89.43 L551.5 89.59 L552.5 89.74 L553.5 89.87 L554.5 89.99 L555.5 90.11 L556.5 90.21 L557.5 90.3 L558.5 90.38 L559.5 90.45 L560.5 90.51 L561.5 90.57 L562.5 90.62 L563.5 90.67 L564.5 90.71 L565.5 90.75 L566.5 90.78 L567.5 90.81" fill="none" stroke="#1c6ee2" stroke-width="1.3" stroke-dasharray="1.4 0.5"/>
<text x="0" y="0" font-size="8.75" text-anchor="middle" fill="#000" transform="translate(411.2 59.6) rotate(-90)">Absorption</text>
<text x="488.4" y="107.8" font-size="8.75" text-anchor="middle" fill="#000" >Photon energy</text>
<rect x="572.4" y="27.9" width="8.7" height="4.7" fill="#e8680f"/>
<rect x="572.4" y="38.9" width="8.7" height="2.7" fill="#a0a0a0"/>
<rect x="572.4" y="50.1" width="8.7" height="1.5" fill="#1f6fe0"/>
<text x="587" y="32.6" font-size="8.75" text-anchor="start" fill="#000" >300 K</text>
<text x="587" y="42.5" font-size="8.75" text-anchor="start" fill="#000" >150 K</text>
<text x="587" y="53.5" font-size="8.75" text-anchor="start" fill="#000" >10 K</text>
<line x1="35.5" y1="222.5" x2="35.5" y2="384.8" stroke="#8a8a8a" stroke-width="0.8" />
<line x1="35.1" y1="222.5" x2="321.7" y2="222.5" stroke="#8a8a8a" stroke-width="0.8" />
<line x1="250.5" y1="222.5" x2="250.5" y2="384" stroke="#8a8a8a" stroke-width="0.8" />
<line x1="35.5" y1="330.5" x2="250.5" y2="330.5" stroke="#a8a8a8" stroke-width="0.9" />
<line x1="35.5" y1="379.9" x2="250.5" y2="379.9" stroke="#cdcdcd" stroke-width="1.2" />
<line x1="250.5" y1="379.9" x2="321.7" y2="379.9" stroke="#cdcdcd" stroke-width="1.1" />
<line x1="321.7" y1="222.5" x2="321.7" y2="380.3" stroke="#cdcdcd" stroke-width="1" />
<line x1="53.56" y1="380.3" x2="53.56" y2="384.8" stroke="#8a8a8a" stroke-width="0.8" />
<line x1="71.42" y1="380.3" x2="71.42" y2="384.8" stroke="#8a8a8a" stroke-width="0.8" />
<line x1="89.28" y1="380.3" x2="89.28" y2="384.8" stroke="#8a8a8a" stroke-width="0.8" />
<line x1="107.14" y1="380.3" x2="107.14" y2="384.8" stroke="#8a8a8a" stroke-width="0.8" />
<line x1="125" y1="380.3" x2="125" y2="384.8" stroke="#8a8a8a" stroke-width="0.8" />
<line x1="142.86" y1="380.3" x2="142.86" y2="384.8" stroke="#8a8a8a" stroke-width="0.8" />
<line x1="160.72" y1="380.3" x2="160.72" y2="384.8" stroke="#8a8a8a" stroke-width="0.8" />
<line x1="178.58" y1="380.3" x2="178.58" y2="384.8" stroke="#8a8a8a" stroke-width="0.8" />
<line x1="196.44" y1="380.3" x2="196.44" y2="384.8" stroke="#8a8a8a" stroke-width="0.8" />
<line x1="214.3" y1="380.3" x2="214.3" y2="384.8" stroke="#8a8a8a" stroke-width="0.8" />
<line x1="232.16" y1="380.3" x2="232.16" y2="384.8" stroke="#8a8a8a" stroke-width="0.8" />
<line x1="253.4" y1="380.2" x2="253.4" y2="381.8" stroke="#999" stroke-width="0.8" />
<line x1="286.2" y1="380.2" x2="286.2" y2="381.8" stroke="#999" stroke-width="0.8" />
<line x1="319" y1="380.2" x2="319" y2="381.8" stroke="#999" stroke-width="0.8" />
<line x1="321.7" y1="237.34" x2="325" y2="237.34" stroke="#bbb" stroke-width="0.8" />
<text x="330" y="240.64" font-size="8.75" text-anchor="start" fill="#000" >200</text>
<line x1="321.7" y1="260.5" x2="325" y2="260.5" stroke="#bbb" stroke-width="0.8" />
<text x="330" y="263.81" font-size="8.75" text-anchor="start" fill="#000" >150</text>
<line x1="321.7" y1="283.67" x2="325" y2="283.67" stroke="#bbb" stroke-width="0.8" />
<text x="330" y="286.97" font-size="8.75" text-anchor="start" fill="#000" >100</text>
<line x1="321.7" y1="306.83" x2="325" y2="306.83" stroke="#bbb" stroke-width="0.8" />
<text x="330" y="310.13" font-size="8.75" text-anchor="start" fill="#000" >50</text>
<line x1="321.7" y1="330" x2="325" y2="330" stroke="#bbb" stroke-width="0.8" />
<text x="330" y="333.3" font-size="8.75" text-anchor="start" fill="#000" >0</text>
<line x1="321.7" y1="353.17" x2="325" y2="353.17" stroke="#bbb" stroke-width="0.8" />
<text x="330" y="356.47" font-size="8.75" text-anchor="start" fill="#000" >−50</text>
<line x1="321.7" y1="376.33" x2="325" y2="376.33" stroke="#bbb" stroke-width="0.8" />
<text x="330" y="379.63" font-size="8.75" text-anchor="start" fill="#000" >−100</text>
<text x="0" y="0" font-size="8.75" text-anchor="middle" fill="#000" transform="translate(355.0 300.6) rotate(90)">Time (fs)</text>
<line x1="33" y1="242.5" x2="252" y2="242.5" stroke="#c8c8c8" stroke-width="0.9" />
<line x1="33" y1="261.9" x2="252" y2="261.9" stroke="#c8c8c8" stroke-width="0.9" />
<line x1="33" y1="281.4" x2="252" y2="281.4" stroke="#c8c8c8" stroke-width="0.9" />
<line x1="33" y1="301" x2="252" y2="301" stroke="#c8c8c8" stroke-width="0.9" />
<rect x="50.66" y="242.5" width="5.8" height="0.3" fill="#e0e012"/>
<rect x="50.66" y="261.9" width="5.8" height="0.3" fill="#8fac55"/>
<rect x="50.66" y="281.2" width="5.8" height="0.2" fill="#1a98d0"/>
<rect x="50.66" y="301" width="5.8" height="0.3" fill="#2b2882"/>
<rect x="68.52" y="242.5" width="5.8" height="0.9" fill="#e0e012"/>
<rect x="68.52" y="261.9" width="5.8" height="1.3" fill="#8fac55"/>
<rect x="68.52" y="281.4" width="5.8" height="0.9" fill="#1a98d0"/>
<rect x="68.52" y="299.3" width="5.8" height="1.7" fill="#2b2882"/>
<rect x="86.38" y="242.5" width="5.8" height="3.2" fill="#e0e012"/>
<rect x="86.38" y="261.9" width="5.8" height="5.8" fill="#8fac55"/>
<rect x="86.38" y="277.9" width="5.8" height="3.5" fill="#1a98d0"/>
<rect x="86.38" y="293.5" width="5.8" height="7.5" fill="#2b2882"/>
<rect x="104.24" y="242.5" width="5.8" height="4.5" fill="#e0e012"/>
<rect x="104.24" y="261.9" width="5.8" height="8.5" fill="#8fac55"/>
<rect x="104.24" y="276" width="5.8" height="5.4" fill="#1a98d0"/>
<rect x="104.24" y="289.6" width="5.8" height="11.4" fill="#2b2882"/>
<rect x="122.1" y="242.5" width="5.8" height="2.8" fill="#e0e012"/>
<rect x="122.1" y="261.9" width="5.8" height="5.8" fill="#8fac55"/>
<rect x="122.1" y="278.6" width="5.8" height="2.8" fill="#1a98d0"/>
<rect x="122.1" y="294.8" width="5.8" height="6.2" fill="#2b2882"/>
<rect x="139.96" y="241.6" width="5.8" height="0.9" fill="#e0e012"/>
<rect x="139.96" y="259.7" width="5.8" height="2.2" fill="#8fac55"/>
<rect x="139.96" y="281.4" width="5.8" height="1.5" fill="#1a98d0"/>
<rect x="139.96" y="301" width="5.8" height="1.5" fill="#2b2882"/>
<rect x="157.82" y="237.3" width="5.8" height="5.2" fill="#e0e012"/>
<rect x="157.82" y="251.6" width="5.8" height="10.3" fill="#8fac55"/>
<rect x="157.82" y="281.4" width="5.8" height="4.7" fill="#1a98d0"/>
<rect x="157.82" y="301" width="5.8" height="8.5" fill="#2b2882"/>
<rect x="175.68" y="235.6" width="5.8" height="6.9" fill="#e0e012"/>
<rect x="175.68" y="248.8" width="5.8" height="13.1" fill="#8fac55"/>
<rect x="175.68" y="281.4" width="5.8" height="6.2" fill="#1a98d0"/>
<rect x="175.68" y="301" width="5.8" height="11.3" fill="#2b2882"/>
<rect x="193.54" y="238.2" width="5.8" height="4.3" fill="#e0e012"/>
<rect x="193.54" y="253.3" width="5.8" height="8.6" fill="#8fac55"/>
<rect x="193.54" y="281.4" width="5.8" height="3.6" fill="#1a98d0"/>
<rect x="193.54" y="301" width="5.8" height="7" fill="#2b2882"/>
<rect x="211.4" y="240.3" width="5.8" height="2.2" fill="#e0e012"/>
<rect x="211.4" y="258.4" width="5.8" height="3.5" fill="#8fac55"/>
<rect x="211.4" y="281.4" width="5.8" height="1.5" fill="#1a98d0"/>
<rect x="211.4" y="301" width="5.8" height="2.8" fill="#2b2882"/>
<rect x="229.26" y="241.7" width="5.8" height="0.8" fill="#e0e012"/>
<rect x="229.26" y="261" width="5.8" height="0.9" fill="#8fac55"/>
<rect x="229.26" y="281.4" width="5.8" height="0.5" fill="#1a98d0"/>
<rect x="229.26" y="301" width="5.8" height="1" fill="#2b2882"/>
<rect x="50.76" y="379.1" width="5.6" height="0.3" fill="#a2a2a2"/>
<rect x="68.62" y="378.8" width="5.6" height="0.6" fill="#a2a2a2"/>
<rect x="86.48" y="372.3" width="5.6" height="7.1" fill="#a2a2a2"/>
<rect x="104.34" y="350" width="5.6" height="29.4" fill="#a2a2a2"/>
<rect x="122.2" y="360.6" width="5.6" height="18.8" fill="#a2a2a2"/>
<rect x="140.06" y="371.4" width="5.6" height="8" fill="#a2a2a2"/>
<rect x="157.92" y="338" width="5.6" height="41.4" fill="#a2a2a2"/>
<rect x="175.78" y="343.7" width="5.6" height="35.7" fill="#a2a2a2"/>
<rect x="193.64" y="363.7" width="5.6" height="15.7" fill="#a2a2a2"/>
<rect x="211.5" y="374.9" width="5.6" height="4.5" fill="#a2a2a2"/>
<rect x="229.36" y="378.4" width="5.6" height="1" fill="#a2a2a2"/>
<line x1="286.2" y1="222.5" x2="286.2" y2="330" stroke="#888" stroke-width="0.9" stroke-dasharray="3 2.2"/>
<path d="M302.54 222.51 L303.24 222.98 L303.93 223.44 L304.61 223.9 L305.28 224.37 L305.94 224.83 L306.58 225.29 L307.21 225.76 L307.83 226.22 L308.44 226.68 L309.03 227.15 L309.61 227.61 L310.17 228.07 L310.72 228.54 L311.25 229 L311.77 229.46 L312.27 229.93 L312.76 230.39 L313.23 230.85 L313.68 231.32 L314.12 231.78 L314.54 232.24 L314.94 232.71 L315.32 233.17 L315.69 233.63 L316.04 234.1 L316.37 234.56 L316.68 235.02 L316.97 235.49 L317.24 235.95 L317.49 236.41 L317.73 236.88 L317.94 237.34 L318.14 237.8 L318.31 238.27 L318.47 238.73 L318.61 239.19 L318.72 239.66 L318.82 240.12 L318.89 240.58 L318.95 241.05 L318.98 241.51 L319 241.97 L318.99 242.44 L318.97 242.9 L318.92 243.36 L318.86 243.83 L318.77 244.29 L318.67 244.75 L318.54 245.22 L318.39 245.68 L318.23 246.14 L318.04 246.61 L317.84 247.07 L317.61 247.53 L317.37 248 L317.11 248.46 L316.82 248.92 L316.52 249.39 L316.2 249.85 L315.86 250.31 L315.51 250.78 L315.13 251.24 L314.74 251.7 L314.33 252.17 L313.9 252.63 L313.46 253.09 L313 253.56 L312.52 254.02 L312.02 254.48 L311.51 254.95 L310.99 255.41 L310.45 255.87 L309.89 256.34 L309.32 256.8 L308.74 257.26 L308.14 257.73 L307.53 258.19 L306.9 258.65 L306.26 259.12 L305.61 259.58 L304.95 260.04 L304.27 260.5 L303.59 260.97 L302.89 261.43 L302.19 261.89 L301.47 262.36 L300.75 262.82 L300.01 263.28 L299.27 263.75 L298.52 264.21 L297.76 264.67 L296.99 265.14 L296.22 265.6 L295.44 266.06 L294.66 266.53 L293.87 266.99 L293.07 267.45 L292.27 267.92 L291.47 268.38 L290.67 268.84 L289.86 269.31 L289.05 269.77 L288.24 270.23 L287.42 270.7 L286.61 271.16 L285.79 271.62 L284.98 272.09 L284.16 272.55 L283.35 273.01 L282.54 273.48 L281.73 273.94 L280.93 274.4 L280.13 274.87 L279.33 275.33 L278.53 275.79 L277.74 276.26 L276.96 276.72 L276.18 277.18 L275.41 277.65 L274.64 278.11 L273.88 278.57 L273.13 279.04 L272.39 279.5 L271.65 279.96 L270.93 280.43 L270.21 280.89 L269.51 281.35 L268.81 281.82 L268.13 282.28 L267.45 282.74 L266.79 283.21 L266.14 283.67 L265.5 284.13 L264.87 284.6 L264.26 285.06 L263.66 285.52 L263.08 285.99 L262.51 286.45 L261.95 286.91 L261.41 287.38 L260.89 287.84 L260.38 288.3 L259.88 288.77 L259.4 289.23 L258.94 289.69 L258.5 290.16 L258.07 290.62 L257.66 291.08 L257.27 291.55 L256.89 292.01 L256.54 292.47 L256.2 292.94 L255.88 293.4 L255.58 293.86 L255.29 294.33 L255.03 294.79 L254.79 295.25 L254.56 295.72 L254.36 296.18 L254.17 296.64 L254.01 297.11 L253.86 297.57 L253.73 298.03 L253.63 298.5 L253.54 298.96 L253.48 299.42 L253.43 299.89 L253.41 300.35 L253.4 300.81 L253.42 301.28 L253.45 301.74 L253.51 302.2 L253.58 302.67 L253.68 303.13 L253.79 303.59 L253.93 304.06 L254.09 304.52 L254.26 304.98 L254.46 305.45 L254.67 305.91 L254.91 306.37 L255.16 306.83 L255.43 307.3 L255.72 307.76 L256.03 308.22 L256.36 308.69 L256.71 309.15 L257.08 309.61 L257.46 310.08 L257.86 310.54 L258.28 311 L258.72 311.47 L259.17 311.93 L259.64 312.39 L260.13 312.86 L260.63 313.32 L261.15 313.78 L261.68 314.25 L262.23 314.71 L262.79 315.17 L263.37 315.64 L263.96 316.1 L264.57 316.56 L265.19 317.03 L265.82 317.49 L266.46 317.95 L267.12 318.42 L267.79 318.88 L268.47 319.34 L269.16 319.81 L269.86 320.27 L270.57 320.73 L271.29 321.2 L272.02 321.66 L272.76 322.12 L273.51 322.59 L274.26 323.05 L275.02 323.51 L275.79 323.98 L276.57 324.44 L277.35 324.9 L278.14 325.37 L278.93 325.83 L279.73 326.29 L280.53 326.76 L281.33 327.22 L282.14 327.68 L282.95 328.15 L283.76 328.61 L284.57 329.07 L285.39 329.54 L286.2 330 L286.2 330 L286.2 379.6" fill="none" stroke="#000" stroke-width="1.5" />
<line x1="286.2" y1="242.2" x2="314.7" y2="242.2" stroke="#e2e21a" stroke-width="1" />
<path d="M318.2 242.2 L313.7 240.3 L313.7 244.1 Z" fill="#e2e21a"/>
<line x1="286.2" y1="261.7" x2="298.2" y2="261.7" stroke="#8fac55" stroke-width="1" />
<path d="M301.7 261.7 L297.2 259.8 L297.2 263.6 Z" fill="#8fac55"/>
<line x1="286.2" y1="281.3" x2="274.3" y2="281.3" stroke="#1a98d0" stroke-width="1" />
<path d="M270.8 281.3 L275.3 279.4 L275.3 283.2 Z" fill="#1a98d0"/>
<line x1="286.2" y1="301.3" x2="257.4" y2="301.3" stroke="#2b2882" stroke-width="1" />
<path d="M253.9 301.3 L258.4 299.4 L258.4 303.2 Z" fill="#2b2882"/>
<text x="253.4" y="395.3" font-size="8.75" text-anchor="middle" fill="#000" >0</text>
<text x="286.2" y="395.3" font-size="8.75" text-anchor="middle" fill="#000" >0.1</text>
<text x="319" y="395.3" font-size="8.75" text-anchor="middle" fill="#000" >0.2</text>
<text x="283" y="411.5" font-size="8.75" text-anchor="start" fill="#000" ><tspan font-style="italic">B</tspan><tspan font-style="italic" font-size="5.8" dy="1.8">l</tspan></text>
<text x="37" y="398.7" font-size="9.3" text-anchor="middle" fill="#000" font-family="Liberation Serif"><tspan font-family="Liberation Serif" font-style="italic">ε</tspan><tspan font-size="6.6" dy="2.4">d</tspan><tspan dy="-2.4"> − 5</tspan><tspan font-family="Liberation Serif" font-style="italic">ω</tspan></text>
<text x="125" y="398.7" font-size="9.3" text-anchor="middle" fill="#000" font-family="Liberation Serif"><tspan font-family="Liberation Serif" font-style="italic">ε</tspan><tspan font-size="6.6" dy="2.4">d</tspan></text>
<text x="216.8" y="398.7" font-size="9.3" text-anchor="middle" fill="#000" font-family="Liberation Serif"><tspan font-family="Liberation Serif" font-style="italic">ε</tspan><tspan font-size="6.6" dy="2.4">d</tspan><tspan dy="-2.4"> + 5</tspan><tspan font-family="Liberation Serif" font-style="italic">ω</tspan></text>
<text x="138.6" y="417.6" font-size="8.75" text-anchor="middle" fill="#000" >Excitation energy (<tspan font-family="Liberation Serif" font-style="italic">ε</tspan><tspan font-size="6.3" dy="2.4">d</tspan><tspan dy="-2.4"> + </tspan><tspan font-style="italic">ℓ</tspan><tspan font-family="Liberation Serif" font-style="italic">ω</tspan>)</text>
<text x="0" y="0" font-size="8.75" text-anchor="middle" fill="#000" transform="translate(23.3 277.0) rotate(-90)"><tspan font-style="italic">Γ</tspan><tspan font-size="5.8" dy="2.2" font-style="italic">ℓ</tspan><tspan font-size="6.2" dx="-1.9" dy="-6.0">disp</tspan><tspan dy="3.8"> − </tspan><tspan font-style="italic">Γ</tspan><tspan font-size="5.8" dy="2.2" font-style="italic">ℓ</tspan><tspan font-size="6.2" dx="-1.9" dy="-6.0">eq</tspan><tspan dy="3.8"> (a.u.)</tspan></text>
<text x="0" y="0" font-size="8.75" text-anchor="middle" fill="#000" transform="translate(23.3 356.1) rotate(-90)"><tspan font-style="italic">Γ</tspan><tspan font-size="5.8" dy="2.2" font-style="italic">ℓ</tspan><tspan font-size="6.2" dx="-1.9" dy="-6.0">eq</tspan><tspan dy="3.8"> (a.u.)</tspan></text>
</svg>
</body></html>
